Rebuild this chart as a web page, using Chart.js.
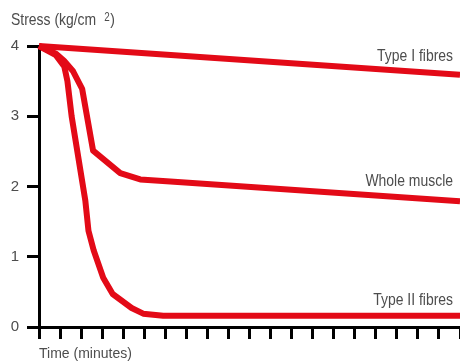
<!DOCTYPE html>
<html>
<head>
<meta charset="utf-8">
<script src="https://cdn.jsdelivr.net/npm/chart.js@4.4.1/dist/chart.umd.min.js"></script>
<style>
  html, body { margin: 0; padding: 0; background: #fff; }
  #wrap { width: 460px; height: 363px; }
</style>
</head>
<body>
<div id="wrap"><canvas id="stressChart"></canvas></div>
<script>
// Stress decay over time - muscle fibre types
const timeTypeI = [0, 20];
const stressTypeI = [4.0, 3.59];

const timeWhole = [0, 0.81, 1.19, 1.62, 2.05, 2.57, 3.86, 4.81, 6.24, 20];
const stressWhole = [4.0, 3.89, 3.79, 3.64, 3.39, 2.51, 2.19, 2.10, 2.07, 1.79];

const timeTypeII = [0, 0.8, 1.2, 1.35, 1.55, 2.2, 2.35, 2.6, 3.05, 3.5, 4.4, 4.95, 5.9, 20];
const stressTypeII = [4.0, 3.87, 3.71, 3.5, 3.0, 1.8, 1.37, 1.09, 0.70, 0.47, 0.27, 0.19, 0.16, 0.16];

const seriesNames = ['Type I fibres', 'Whole muscle', 'Type II fibres'];
const yTickValues = [0, 1, 2, 3, 4];
const timeSteps = 20;

const RED = '#e30a17';
const TEXT = '#4d4d4d';
const FONT = "'Liberation Sans', Arial, sans-serif";
const SQUEEZE = 0.82; // the source uses a condensed face

function toPoints(xs, ys) {
  return xs.map((x, i) => ({ x: x, y: ys[i] }));
}

function lineDataset(label, xs, ys) {
  return {
    label: label,
    data: toPoints(xs, ys),
    borderColor: RED,
    backgroundColor: RED,
    borderWidth: 6,
    pointRadius: 0,
    tension: 0,
    borderJoinStyle: 'round',
    clip: false
  };
}

// draw text squeezed horizontally, returns drawn width
function condensedText(ctx, text, x, y, align) {
  ctx.save();
  ctx.translate(x, y);
  ctx.scale(SQUEEZE, 1);
  ctx.textAlign = align;
  ctx.fillText(text, 0, 0);
  const w = ctx.measureText(text).width * SQUEEZE;
  ctx.restore();
  return w;
}

// Labels at the right end of each line + the y axis title with superscript
const annotationPlugin = {
  id: 'stressAnnotations',
  afterDraw(chart) {
    const ctx = chart.ctx;
    const xs = chart.scales.x;
    const ys = chart.scales.y;
    const offsets = [14, 15, 11];
    ctx.save();
    ctx.fillStyle = TEXT;
    ctx.textBaseline = 'alphabetic';
    ctx.font = '17px ' + FONT;
    chart.data.datasets.forEach((ds, i) => {
      const last = ds.data[ds.data.length - 1];
      const px = xs.getPixelForValue(last.x) - 7;
      const py = ys.getPixelForValue(last.y) - offsets[i];
      condensedText(ctx, seriesNames[i], px, py, 'right');
    });

    // y axis title
    ctx.font = '17px ' + FONT;
    const w = condensedText(ctx, 'Stress (kg/cm', 11, 25, 'left');
    ctx.font = '12px ' + FONT;
    const w2 = condensedText(ctx, '2', 11 + w + 8, 21, 'left');
    ctx.font = '17px ' + FONT;
    condensedText(ctx, ')', 11 + w + 8 + w2 + 0.5, 25, 'left');
    ctx.restore();
  }
};

new Chart(document.getElementById('stressChart'), {
  type: 'line',
  data: {
    datasets: [
      lineDataset(seriesNames[0], timeTypeI, stressTypeI),
      lineDataset(seriesNames[1], timeWhole, stressWhole),
      lineDataset(seriesNames[2], timeTypeII, stressTypeII)
    ]
  },
  options: {
    responsive: true,
    maintainAspectRatio: false,
    animation: false,
    layout: { padding: { top: 46, right: 0, bottom: 0, left: 0 } },
    plugins: {
      legend: { display: false },
      tooltip: { enabled: false },
      title: { display: false }
    },
    scales: {
      x: {
        type: 'linear',
        min: 0,
        max: timeSteps,
        ticks: { stepSize: 1, display: false },
        grid: {
          drawOnChartArea: false,
          drawTicks: true,
          tickLength: 12,
          color: '#000',
          lineWidth: 3
        },
        border: { display: true, color: '#000', width: 3 },
        title: {
          display: true,
          text: 'Time (minutes)',
          align: 'start',
          color: TEXT,
          font: { family: FONT, size: 14 },
          padding: { top: 0, bottom: 0 }
        },
        afterFit(scale) { scale.height = 36; }
      },
      y: {
        min: 0,
        max: 4,
        afterBuildTicks(scale) {
          scale.ticks = yTickValues.map(v => ({ value: v }));
        },
        ticks: {
          color: TEXT,
          padding: 8,
          font: { family: FONT, size: 15 }
        },
        grid: {
          drawOnChartArea: false,
          drawTicks: true,
          tickLength: 12,
          color: '#000',
          lineWidth: 3
        },
        border: { display: true, color: '#000', width: 3 },
        afterFit(scale) { scale.width = 39; }
      }
    }
  },
  plugins: [annotationPlugin]
});
</script>
</body>
</html>
